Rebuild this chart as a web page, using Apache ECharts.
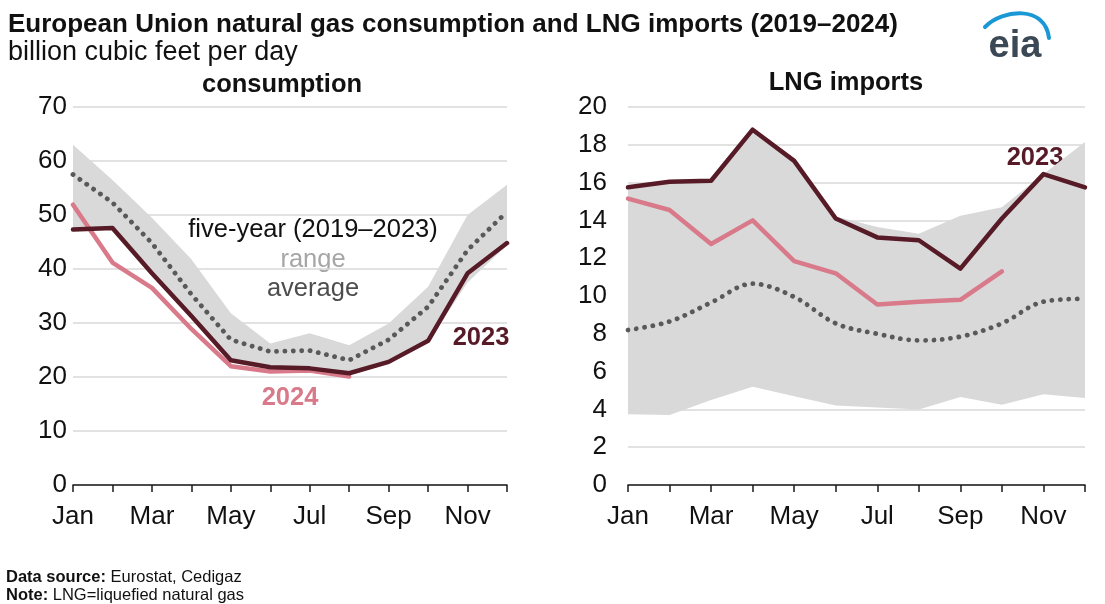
<!DOCTYPE html>
<html>
<head>
<meta charset="utf-8">
<script src="https://cdn.jsdelivr.net/npm/echarts@6/dist/echarts.min.js"></script>
<style>
html,body{margin:0;padding:0;background:#fff;}
#chart{width:1105px;height:604px;}
</style>
</head>
<body>
<div id="chart"></div>
<script>
// ---- data ----
var months = ['Jan','Feb','Mar','Apr','May','Jun','Jul','Aug','Sep','Oct','Nov','Dec'];

// consumption (billion cubic feet per day)
var cons2023 = [47.3, 47.6, 39.2, 31.3, 23.1, 21.8, 21.6, 20.7, 22.8, 26.7, 39.2, 44.8];
var cons2024 = [51.9, 41.2, 36.5, 28.9, 22.0, 21.0, 21.2, 20.1];
var consAvg  = [57.5, 52.3, 44.8, 35.3, 26.9, 24.7, 24.9, 23.1, 26.9, 33.0, 43.5, 50.6];
var consMax  = [63.0, 56.5, 49.5, 41.8, 31.8, 26.2, 28.1, 25.9, 29.9, 36.7, 50.0, 55.6];
var consMin  = [47.2, 47.4, 39.0, 31.0, 22.9, 21.6, 21.4, 20.5, 22.6, 26.4, 37.5, 44.4];

// LNG imports (billion cubic feet per day)
var lng2023 = [15.75, 16.05, 16.1, 18.8, 17.15, 14.1, 13.1, 12.95, 11.45, 14.1, 16.45, 15.75];
var lng2024 = [15.15, 14.55, 12.75, 14.0, 11.85, 11.2, 9.55, 9.7, 9.8, 11.3];
var lngAvg  = [8.2, 8.65, 9.65, 10.65, 9.95, 8.55, 8.0, 7.65, 7.85, 8.55, 9.7, 9.85];
var lngMax  = [15.75, 16.05, 16.1, 18.8, 17.15, 14.2, 13.65, 13.3, 14.25, 14.7, 16.45, 18.15];
var lngMin  = [3.75, 3.7, 4.5, 5.2, 4.7, 4.2, 4.1, 4.0, 4.65, 4.25, 4.8, 4.6];

var consTicks = {min: 0, max: 70, interval: 10};
var lngTicks  = {min: 0, max: 20, interval: 2};

// ---- styles ----
var C2023 = '#561b26';
var C2024 = '#d97a8a';
var CBAND = '#d9d9d9';
var CAVG  = '#595959';
var FONT  = 'Liberation Sans, Arial, sans-serif';
var ASC = 0.75; // baseline offset from top for 'top' aligned text

function spanOf(mx, mn){ return mx.map(function(v,i){ return +(v - mn[i]).toFixed(3); }); }

function xAxis(gi){
  return {
    type: 'category', gridIndex: gi, data: months, boundaryGap: false,
    axisLine: {lineStyle: {color: '#1a1a1a', width: 1.5}},
    axisTick: {show: true, interval: 0, length: 7, lineStyle: {color: '#1a1a1a', width: 1.5}},
    axisLabel: {interval: 1, color: '#111', fontSize: 26, fontFamily: FONT, margin: 19}
  };
}
function yAxis(gi, t, margin){
  return {
    type: 'value', gridIndex: gi, min: t.min, max: t.max, interval: t.interval,
    axisLine: {show: false}, axisTick: {show: false},
    splitLine: {lineStyle: {color: '#d9d9d9', width: 1.5}},
    axisLabel: {color: '#111', fontSize: 26, fontFamily: FONT, margin: margin}
  };
}
function bandSeries(gi, mn, mx, stackName){
  return [
    {type: 'line', xAxisIndex: gi, yAxisIndex: gi, stack: stackName, data: mn, symbol: 'none',
     lineStyle: {opacity: 0}, silent: true, z: 1},
    {type: 'line', xAxisIndex: gi, yAxisIndex: gi, stack: stackName, data: spanOf(mx, mn), symbol: 'none',
     lineStyle: {opacity: 0}, areaStyle: {color: CBAND, opacity: 1}, silent: true, z: 1}
  ];
}
function lineSeries(gi, data, color, z){
  return {type: 'line', xAxisIndex: gi, yAxisIndex: gi, data: data, symbol: 'none',
          lineStyle: {color: color, width: 4.5, cap: 'round', join: 'round'}, z: z};
}
function avgSeries(gi, data, smooth){
  return {type: 'line', xAxisIndex: gi, yAxisIndex: gi, data: data, symbol: 'none', smooth: smooth,
          lineStyle: {color: CAVG, width: 4.8, type: [0.1, 8.3], cap: 'round'}, z: 3};
}

var series = []
  .concat(bandSeries(0, consMin, consMax, 'c'))
  .concat([avgSeries(0, consAvg, false), lineSeries(0, cons2024, C2024, 4), lineSeries(0, cons2023, C2023, 5)])
  .concat(bandSeries(1, lngMin, lngMax, 'l'))
  .concat([avgSeries(1, lngAvg, 0.35), lineSeries(1, lng2024, C2024, 4), lineSeries(1, lng2023, C2023, 5)]);

// text placed by its baseline
function txt(x, base, text, size, color, weight, align){
  return {type: 'text', x: x, y: base - ASC * size, style: {text: text, fontSize: size, fill: color,
          fontWeight: weight || 'normal', fontFamily: FONT, align: align || 'left', verticalAlign: 'top'}};
}
function richTxt(x, base, boldPart, rest, size){
  return {type: 'text', x: x, y: base - ASC * size, style: {text: '{b|' + boldPart + '}' + rest, fontSize: size,
    fill: '#111', fontFamily: FONT, verticalAlign: 'top',
    rich: {b: {fontWeight: 'bold', fontSize: size, fill: '#111', fontFamily: FONT}}}};
}

var option = {
  animation: false,
  backgroundColor: '#fff',
  grid: [
    {left: 73, top: 107, width: 434, height: 378},
    {left: 628, top: 107, width: 457, height: 378}
  ],
  xAxis: [xAxis(0), xAxis(1)],
  yAxis: [yAxis(0, consTicks, 6), yAxis(1, lngTicks, 21)],
  series: series,
  graphic: [
    txt(8, 31, 'European Union natural gas consumption and LNG imports (2019\u20132024)', 26, '#111', 'bold'),
    txt(8, 59, 'billion cubic feet per day', 27, '#111'),
    txt(282, 91, 'consumption', 25.5, '#111', 'bold', 'center'),
    txt(846, 89, 'LNG imports', 25.5, '#111', 'bold', 'center'),
    txt(313, 236.5, 'five-year (2019\u20132023)', 25.5, '#111', 'normal', 'center'),
    txt(313, 266, 'range', 25.5, '#a6a6a6', 'normal', 'center'),
    txt(313, 295, 'average', 25.5, '#4d4d4d', 'normal', 'center'),
    txt(481, 344, '2023', 25.5, C2023, 'bold', 'center'),
    txt(290, 404, '2024', 25.5, C2024, 'bold', 'center'),
    txt(1035, 164, '2023', 25.5, C2023, 'bold', 'center'),
    txt(1043, 271.5, '2024', 25.5, C2024, 'bold', 'center'),
    // eia logo
    {type: 'bezierCurve', shape: {x1: 985, y1: 27, x2: 1049, y2: 38, cpx1: 1003, cpy1: 9, cpx2: 1045, cpy2: 5},
     style: {stroke: '#1a98d5', lineWidth: 4, fill: null, lineCap: 'round'}},
    txt(1015, 56, 'eia', 38, '#3b4855', 'bold', 'center'),
    // footer
    richTxt(6, 581, 'Data source:', ' Eurostat, Cedigaz', 16.5),
    richTxt(6, 599, 'Note:', ' LNG=liquefied natural gas', 16.5)
  ]
};

var chart = echarts.init(document.getElementById('chart'), null, {renderer: 'canvas'});
chart.setOption(option);
</script>
</body>
</html>
